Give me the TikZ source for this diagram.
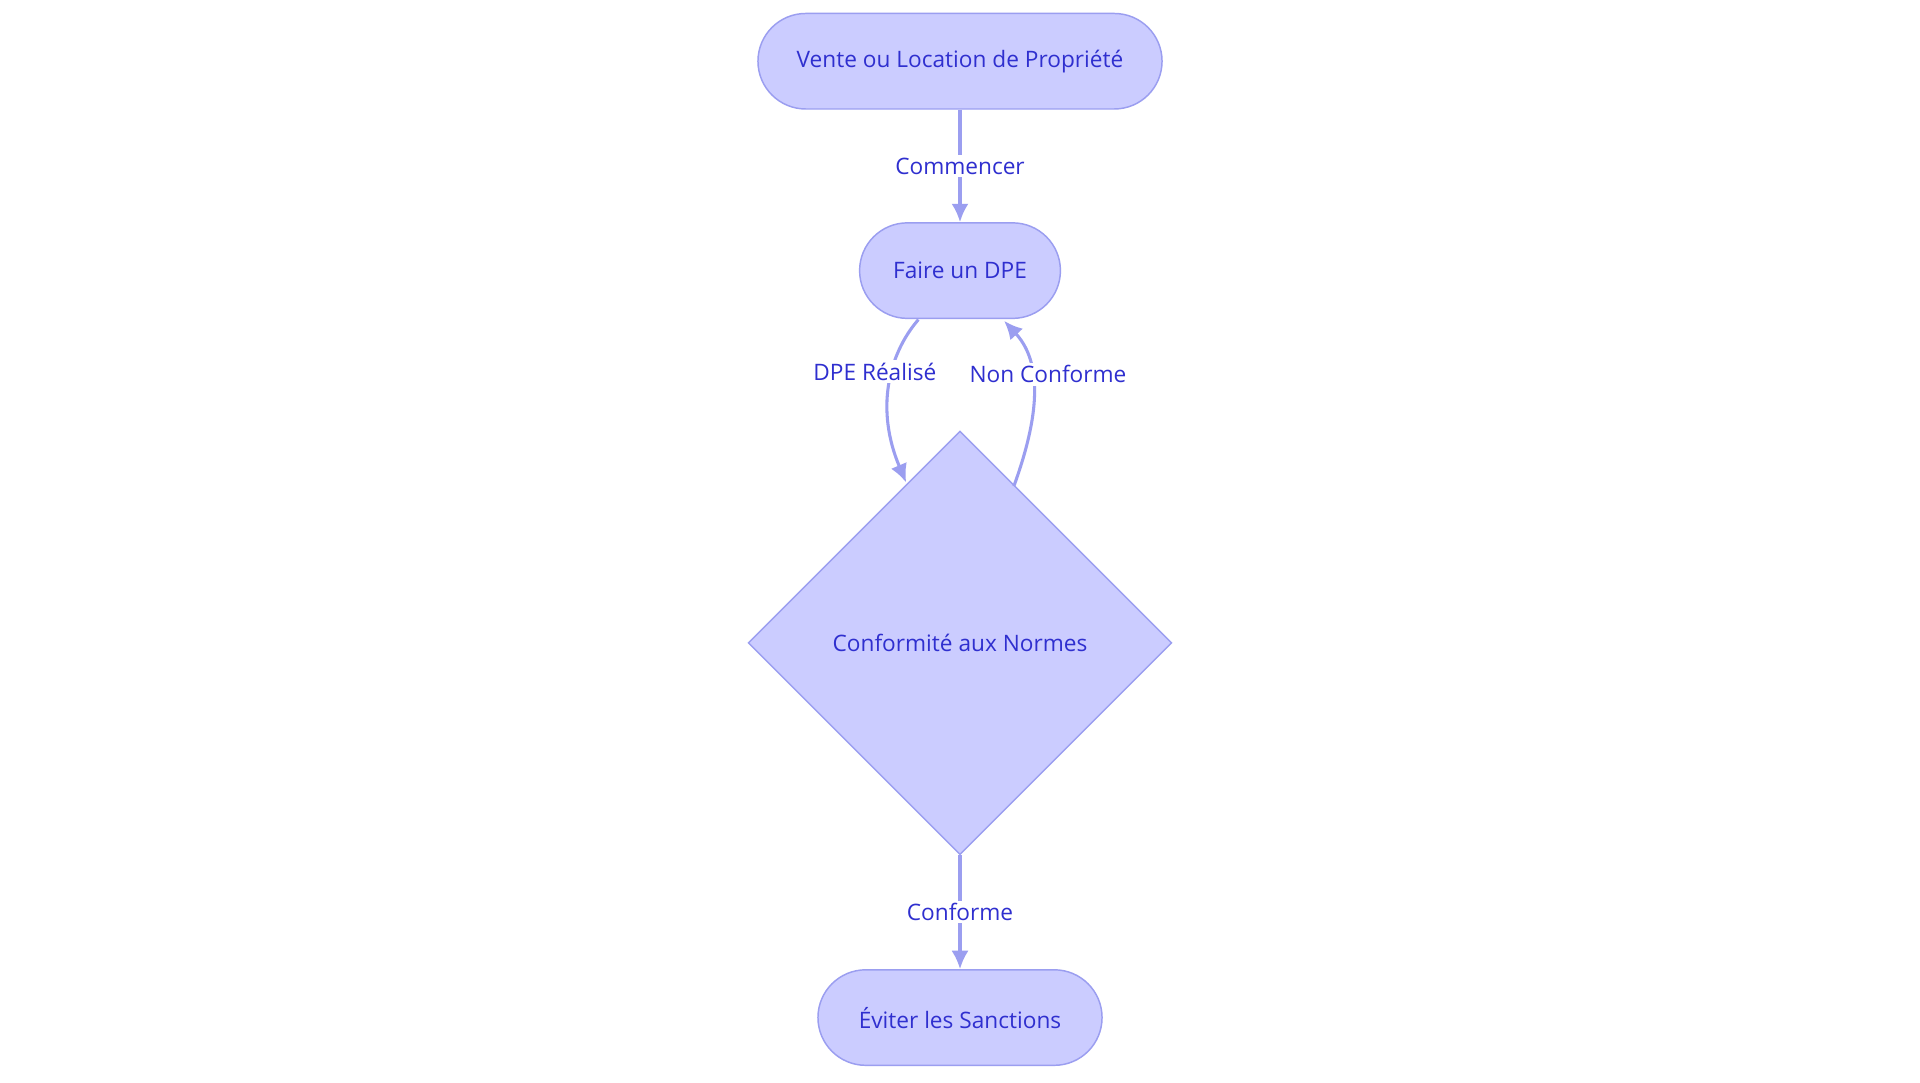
\documentclass[tikz,border=0pt]{standalone}
\usepackage{fontspec}
\setmainfont{Open Sans}
\usetikzlibrary{shapes.geometric,arrows.meta}
\definecolor{nfill}{HTML}{CBCCFF}
\definecolor{nbord}{HTML}{9B9EF0}
\definecolor{ntext}{HTML}{2F2FCF}
\begin{document}
\begin{tikzpicture}[x=1pt,y=-1pt,
  box/.style={draw=nbord,fill=nfill,rounded corners=39pt,minimum height=78pt,text=ntext,font=\fontsize{18.5}{22}\selectfont,line width=1.2pt},
  lbl/.style={fill=white,text=ntext,font=\fontsize{18.5}{22}\selectfont,inner sep=2pt},
  edge/.style={draw=nbord,line width=2.5pt,-{Latex[length=15pt,width=14pt]}}]
\useasboundingbox[fill=white] (0,0) rectangle (1568,884);
\node[box,minimum width=330pt] (a) at (784,50) {Vente ou Location de Propriété};
\node[box,minimum width=164pt] (b) at (784,221) {Faire un DPE};
\node[draw=nbord,fill=nfill,diamond,minimum width=346pt,minimum height=346pt,inner sep=0,text=ntext,font=\fontsize{18.5}{22}\selectfont,line width=1.2pt] (c) at (784,525) {Conformité aux Normes};
\node[box,minimum width=232pt] (d) at (784,831) {Éviter les Sanctions};
\coordinate (b1) at (750,261);
\coordinate (c1) at (740,394);
\coordinate (c2) at (828,397);
\coordinate (b2) at (820,262);
\draw[edge] (a) -- node[lbl]{Commencer} (b);
\draw[edge] (b1) .. controls (725,290) and (715,335) .. node[lbl,pos=0.4,xshift=-14pt]{DPE Réalisé} (c1);
\draw[edge] (c2) .. controls (845,350) and (855,300) .. node[lbl,pos=0.65,xshift=14pt]{Non Conforme} (b2);
\draw[edge] (c) -- node[lbl]{Conforme} (d);
\end{tikzpicture}
\end{document}
